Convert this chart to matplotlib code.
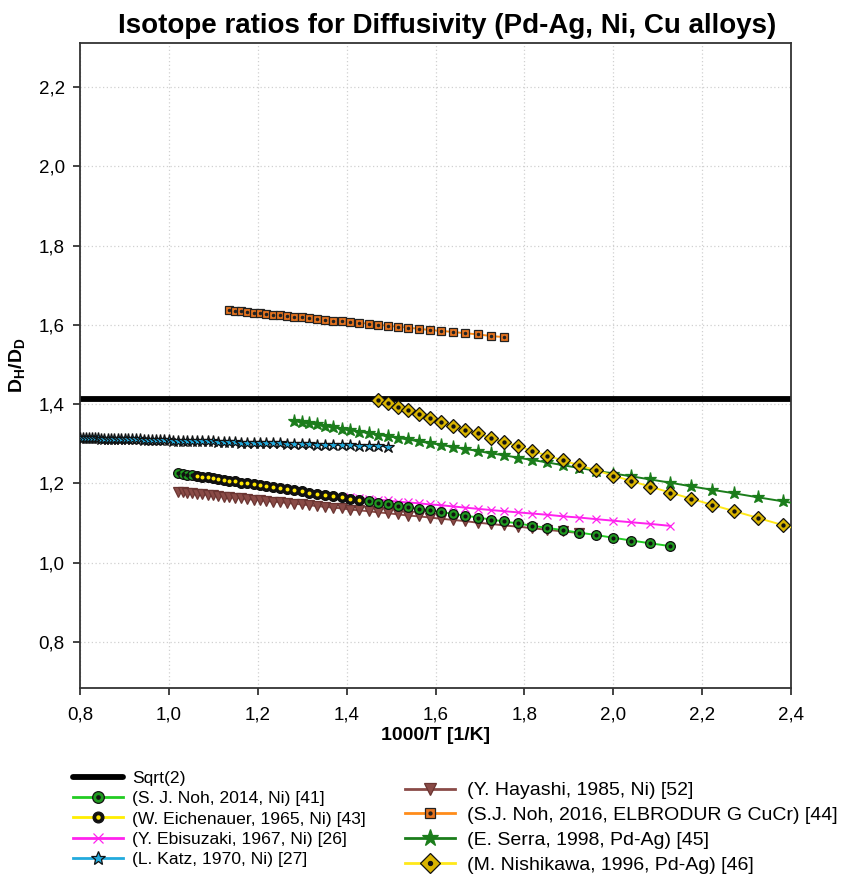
import numpy as np
import matplotlib
matplotlib.use("Agg")
import matplotlib.pyplot as plt

# temperatures [K] of each series (x axis is 1000/T) and the D_H/D_D values
noh2014_T = [980, 970, 960, 950, 940, 930, 920, 910, 900, 890, 880, 870, 860, 850, 840, 830,
             820, 810, 800, 790, 780, 770, 760, 750, 740, 730, 720, 710, 700, 690, 680, 670,
             660, 650, 640, 630, 620, 610, 600, 590, 580, 570, 560, 550, 540, 530, 520, 510,
             500, 490, 480, 470]
noh2014_ratio = [1.226, 1.224, 1.222, 1.221, 1.219, 1.217, 1.215, 1.213, 1.211, 1.209, 1.207,
                 1.205, 1.202, 1.200, 1.198, 1.195, 1.193, 1.190, 1.188, 1.185, 1.183, 1.180,
                 1.177, 1.174, 1.171, 1.168, 1.165, 1.162, 1.158, 1.155, 1.151, 1.148, 1.144,
                 1.140, 1.136, 1.132, 1.128, 1.123, 1.119, 1.114, 1.109, 1.104, 1.099, 1.093,
                 1.088, 1.082, 1.076, 1.070, 1.063, 1.056, 1.049, 1.042]

eichenauer_T = [940, 930, 920, 910, 900, 890, 880, 870, 860, 850, 840, 830, 820, 810, 800,
                790, 780, 770, 760, 750, 740, 730, 720, 710, 700]
eichenauer_ratio = [1.219, 1.217, 1.215, 1.213, 1.211, 1.209, 1.207, 1.205, 1.202, 1.200,
                    1.198, 1.195, 1.193, 1.190, 1.188, 1.185, 1.183, 1.180, 1.177, 1.174,
                    1.171, 1.168, 1.165, 1.162, 1.158]

ebisuzaki_T = [710, 700, 690, 680, 670, 660, 650, 640, 630, 620, 610, 600, 590, 580, 570,
               560, 550, 540, 530, 520, 510, 500, 490, 480, 470]
ebisuzaki_ratio = [1.165, 1.163, 1.161, 1.159, 1.157, 1.154, 1.152, 1.150, 1.147, 1.145,
                   1.142, 1.139, 1.136, 1.133, 1.130, 1.127, 1.124, 1.121, 1.117, 1.114,
                   1.110, 1.106, 1.102, 1.098, 1.093]

katz_T = [1250, 1240, 1230, 1220, 1210, 1200, 1190, 1180, 1170, 1160, 1150, 1140, 1130, 1120,
          1110, 1100, 1090, 1080, 1070, 1060, 1050, 1040, 1030, 1020, 1010, 1000, 990, 980,
          970, 960, 950, 940, 930, 920, 910, 900, 890, 880, 870, 860, 850, 840, 830, 820,
          810, 800, 790, 780, 770, 760, 750, 740, 730, 720, 710, 700, 690, 680, 670]
katz_ratio = [1.315, 1.315, 1.315, 1.314, 1.314, 1.314, 1.314, 1.313, 1.313, 1.313, 1.313,
              1.312, 1.312, 1.312, 1.312, 1.311, 1.311, 1.311, 1.311, 1.310, 1.310, 1.310,
              1.310, 1.309, 1.309, 1.309, 1.308, 1.308, 1.308, 1.307, 1.307, 1.307, 1.306,
              1.306, 1.306, 1.305, 1.305, 1.304, 1.304, 1.303, 1.303, 1.303, 1.302, 1.302,
              1.301, 1.301, 1.300, 1.300, 1.299, 1.299, 1.298, 1.297, 1.297, 1.296, 1.296,
              1.295, 1.294, 1.294, 1.293]

hayashi_T = [980, 970, 960, 950, 940, 930, 920, 910, 900, 890, 880, 870, 860, 850, 840, 830,
             820, 810, 800, 790, 780, 770, 760, 750, 740, 730, 720, 710, 700, 690, 680, 670,
             660, 650, 640, 630, 620, 610, 600, 590, 580, 570, 560, 550, 540, 530, 520]
hayashi_ratio = [1.179, 1.178, 1.177, 1.175, 1.174, 1.173, 1.171, 1.170, 1.169, 1.167, 1.166,
                 1.164, 1.163, 1.161, 1.159, 1.158, 1.156, 1.154, 1.153, 1.151, 1.149, 1.147,
                 1.145, 1.143, 1.141, 1.139, 1.137, 1.134, 1.132, 1.130, 1.127, 1.125, 1.122,
                 1.119, 1.117, 1.114, 1.111, 1.108, 1.105, 1.101, 1.098, 1.094, 1.091, 1.087,
                 1.083, 1.079, 1.075]

noh2016_T = [880, 870, 860, 850, 840, 830, 820, 810, 800, 790, 780, 770, 760, 750, 740, 730,
             720, 710, 700, 690, 680, 670, 660, 650, 640, 630, 620, 610, 600, 590, 580, 570]
noh2016_ratio = [1.637, 1.636, 1.634, 1.633, 1.631, 1.629, 1.628, 1.626, 1.625, 1.623, 1.621,
                 1.619, 1.617, 1.615, 1.613, 1.611, 1.609, 1.607, 1.605, 1.603, 1.600, 1.598,
                 1.595, 1.593, 1.590, 1.587, 1.585, 1.582, 1.579, 1.576, 1.572, 1.569]

serra_T = [780, 770, 760, 750, 740, 730, 720, 710, 700, 690, 680, 670, 660, 650, 640, 630,
           620, 610, 600, 590, 580, 570, 560, 550, 540, 530, 520, 510, 500, 490, 480, 470,
           460, 450, 440, 430, 420, 410]
serra_ratio = [1.358, 1.355, 1.352, 1.349, 1.345, 1.342, 1.338, 1.335, 1.331, 1.327, 1.323,
               1.319, 1.315, 1.311, 1.306, 1.302, 1.297, 1.292, 1.287, 1.282, 1.276, 1.271,
               1.265, 1.259, 1.253, 1.246, 1.239, 1.232, 1.225, 1.218, 1.210, 1.202, 1.193,
               1.184, 1.175, 1.165, 1.155, 1.144]

nishikawa_T = [680, 670, 660, 650, 640, 630, 620, 610, 600, 590, 580, 570, 560, 550, 540,
               530, 520, 510, 500, 490, 480, 470, 460, 450, 440, 430, 420, 410]
nishikawa_ratio = [1.411, 1.402, 1.393, 1.384, 1.374, 1.364, 1.355, 1.345, 1.335, 1.326,
                   1.315, 1.305, 1.294, 1.282, 1.270, 1.258, 1.246, 1.233, 1.220, 1.206,
                   1.192, 1.177, 1.162, 1.146, 1.130, 1.113, 1.095, 1.077]

sqrt2_value = 1.4142

x_ticks = [0.8, 1.0, 1.2, 1.4, 1.6, 1.8, 2.0, 2.2, 2.4]
x_tick_labels = ["0,8", "1,0", "1,2", "1,4", "1,6", "1,8", "2,0", "2,2", "2,4"]
y_ticks = [0.8, 1.0, 1.2, 1.4, 1.6, 1.8, 2.0, 2.2]
y_tick_labels = ["0,8", "1,0", "1,2", "1,4", "1,6", "1,8", "2,0", "2,2"]

plt.rcParams.update({
    "font.family": ["Liberation Sans", "DejaVu Sans"],
    "mathtext.fontset": "custom",
    "mathtext.rm": "Liberation Sans",
    "mathtext.bf": "Liberation Sans:bold",
    "mathtext.it": "Liberation Sans:italic",
})


def inv_temp(temps):
    return 1000.0 / np.asarray(temps, dtype=float)


def draw_series(ax, temps, values, color, marker, size, face, edge,
                center=None, lw=1.4, z=3):
    x = inv_temp(temps)
    line, = ax.plot(x, values, color=color, lw=lw, marker=marker, ms=size,
                    mfc=face, mec=edge, mew=0.9, zorder=z)
    if center is None:
        return line
    dots, = ax.plot(x, values, ls="none", marker="o", ms=size * 0.28,
                    mfc=center, mec=center, zorder=z + 0.1)
    return (line, dots)


fig = plt.figure(figsize=(8.44, 8.77), dpi=100)
ax = fig.add_axes([80 / 844, 1 - 688 / 877, 711 / 844, 645 / 877])

ax.set_xlim(0.8, 2.4)
ax.set_ylim(0.684, 2.311)

sqrt_line, = ax.plot([0.8, 2.4], [sqrt2_value, sqrt2_value], color="black", lw=4.2,
                     solid_capstyle="round", zorder=2)

h_hayashi = draw_series(ax, hayashi_T, hayashi_ratio, "#8a4b47", "v", 6.5,
                        "#8a4b47", "#6b3532", z=3)
h_noh2016 = draw_series(ax, noh2016_T, noh2016_ratio, "#ff8c1a", "s", 5.5,
                        "#e8741e", "#222222", center="#222222", z=3)
h_serra = draw_series(ax, serra_T, serra_ratio, "#1b7d1b", "*", 9.5,
                      "#1b7d1b", "#1b7d1b", z=3)
h_nishikawa = draw_series(ax, nishikawa_T, nishikawa_ratio, "#ffe81a", "D", 7.5,
                          "#d9b400", "#111111", center="#111111", z=4)
h_ebisuzaki = draw_series(ax, ebisuzaki_T, ebisuzaki_ratio, "#ff22ee", "x", 6,
                          "#ff22ee", "#ff22ee", z=4)
h_noh2014 = draw_series(ax, noh2014_T, noh2014_ratio, "#22cc22", "o", 7,
                        "#1f9a1f", "#111111", center="#111111", z=5)
h_eichenauer = draw_series(ax, eichenauer_T, eichenauer_ratio, "#ffee00", "o", 6.5,
                           "#111111", "#111111", center="#ffe600", z=6)
h_katz = draw_series(ax, katz_T, katz_ratio, "#22aadd", "*", 9,
                     "#22aadd", "#111111", lw=1.2, z=6)

ax.set_xticks(x_ticks)
ax.set_xticklabels(x_tick_labels)
ax.set_yticks(y_ticks)
ax.set_yticklabels(y_tick_labels)
ax.tick_params(axis="both", direction="out", length=5, width=1.2, labelsize=13.5,
               color="#222222", pad=6)
ax.tick_params(axis="x", pad=8)
ax.grid(True, color="#d0d0d0", linestyle=(0, (1, 2)), linewidth=0.9)
ax.set_axisbelow(True)
for side in ["left", "bottom", "top", "right"]:
    ax.spines[side].set_color("#333333")
    ax.spines[side].set_linewidth(1.3)

ax.set_xlabel("1000/T [1/K]", fontsize=14, fontweight="bold", labelpad=3)
ax.set_ylabel(r"$\mathbf{D_H/D_D}$", fontsize=14, labelpad=8)

fig.text(447 / 844, 1 - 26 / 877, "Isotope ratios for Diffusivity (Pd-Ag, Ni, Cu alloys)",
         ha="center", va="center", fontsize=20, fontweight="bold")

left_handles = [sqrt_line, h_noh2014, h_eichenauer, h_ebisuzaki, h_katz]
left_labels = ["Sqrt(2)", "(S. J. Noh, 2014, Ni) [41]", "(W. Eichenauer, 1965, Ni) [43]",
               "(Y. Ebisuzaki, 1967, Ni) [26]", "(L. Katz, 1970, Ni) [27]"]
right_handles = [h_hayashi, h_noh2016, h_serra, h_nishikawa]
right_labels = ["(Y. Hayashi, 1985, Ni) [52]", "(S.J. Noh, 2016, ELBRODUR G CuCr) [44]",
                "(E. Serra, 1998, Pd-Ag) [45]", "(M. Nishikawa, 1996, Pd-Ag) [46]"]

leg1 = fig.legend(left_handles, left_labels, loc="upper left",
                  bbox_to_anchor=(66 / 844, 1 - 764 / 877), frameon=False,
                  fontsize=12.6, handlelength=2.86, labelspacing=0.28, borderaxespad=0,
                  handletextpad=0.5, markerscale=1.2)
leg2 = fig.legend(right_handles, right_labels, loc="upper left",
                  bbox_to_anchor=(397 / 844, 1 - 774 / 877), frameon=False,
                  fontsize=14, handlelength=2.58, labelspacing=0.37, borderaxespad=0,
                  handletextpad=0.62, markerscale=1.35)
for leg in (leg1, leg2):
    for legline in leg.get_lines():
        if legline.get_linewidth() < 3:
            legline.set_linewidth(2.0)

fig.savefig("out.png", dpi=100)
